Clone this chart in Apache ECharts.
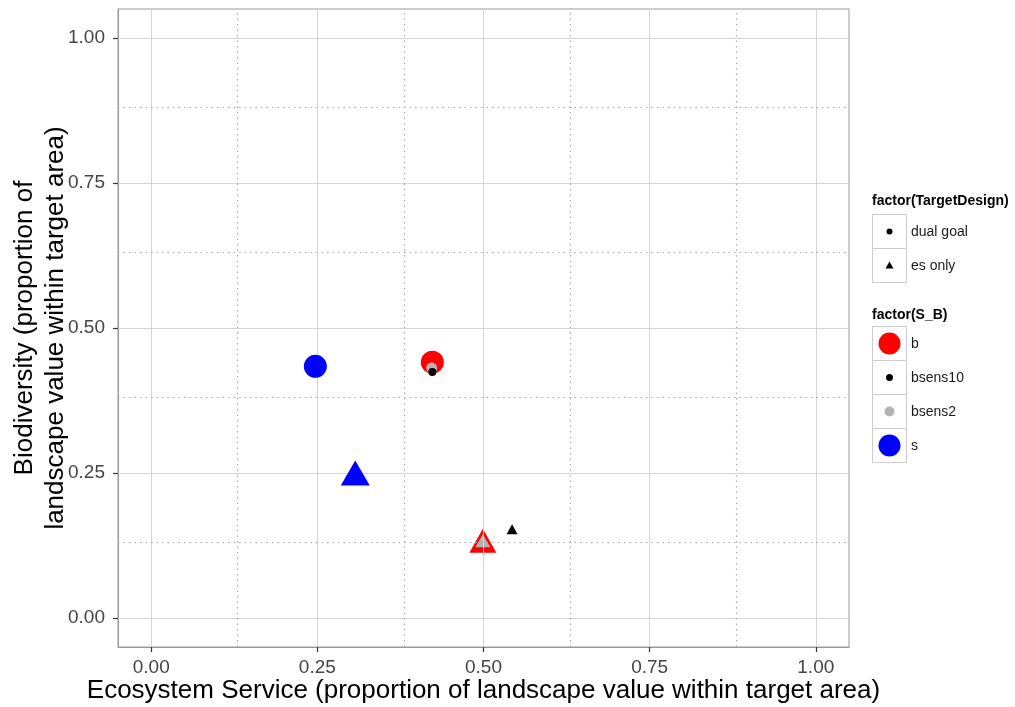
<!DOCTYPE html>
<html>
<head>
<meta charset="utf-8">
<script src="https://cdn.jsdelivr.net/npm/echarts@6/dist/echarts.min.js"></script>
<style>
  html, body { margin: 0; padding: 0; background: #fff; }
  #chart { width: 1015px; height: 707px; }
</style>
</head>
<body>
<div id="chart"></div>
<script>
// Levels of the two factors
const sbLevels = ['b', 'bsens10', 'bsens2', 's'];
const designLevels = ['dual goal', 'es only'];

// [EcosystemService, Biodiversity] per S_B level, for each target design
const dualGoal = {
  b:       [0.423, 0.441],
  bsens10: [0.423, 0.424],
  bsens2:  [0.422, 0.431],
  s:       [0.247, 0.434]
};
const esOnly = {
  b:       [0.499, 0.133],
  bsens10: [0.543, 0.153],
  bsens2:  [0.499, 0.133],
  s:       [0.307, 0.250]
};

// Tick labels and grid breaks
const majorBreaks = [0, 0.25, 0.5, 0.75, 1];
const minorBreaks = [0.125, 0.375, 0.625, 0.875];
const tickLabels = ['0.00', '0.25', '0.50', '0.75', '1.00'];

// Styling per level
const sbColor = { b: '#ff0000', bsens10: '#000000', bsens2: '#b3b3b3', s: '#0000ff' };
const circleSize = { b: 23, bsens10: 8, bsens2: 11, s: 23 };
const triSize = { b: [27, 24], bsens10: [11, 10], bsens2: [15, 13], s: [29, 25] };
const drawOrder = ['b', 'bsens2', 'bsens10', 's'];

const FONT = '"Liberation Sans", Arial, Helvetica, sans-serif';

function fmt(v) {
  const i = majorBreaks.findIndex(b => Math.abs(b - v) < 1e-9);
  return i >= 0 ? tickLabels[i] : '';
}

const series = [];

// Panel grid lines
series.push({
  type: 'scatter',
  data: [],
  silent: true,
  z: 0,
  markLine: {
    silent: true,
    symbol: 'none',
    animation: false,
    label: { show: false },
    data: [
      ...majorBreaks.map(v => ({ xAxis: v, lineStyle: { color: '#d4d4d4', width: 1, type: 'solid' } })),
      ...majorBreaks.map(v => ({ yAxis: v, lineStyle: { color: '#d4d4d4', width: 1, type: 'solid' } })),
      ...minorBreaks.map(v => ({ xAxis: v, lineStyle: { color: '#a8a8a8', width: 1.2, type: [1.5, 4] } })),
      ...minorBreaks.map(v => ({ yAxis: v, lineStyle: { color: '#a8a8a8', width: 1.2, type: [1.5, 4] } }))
    ]
  }
});

drawOrder.forEach((lvl, k) => {
  const pts = [
    { value: dualGoal[lvl], symbol: 'circle', symbolSize: circleSize[lvl] },
    { value: esOnly[lvl], symbol: 'triangle', symbolSize: triSize[lvl] }
  ];
  series.push({
    name: lvl,
    type: 'scatter',
    z: 2 + k,
    data: pts,
    itemStyle: { color: sbColor[lvl], opacity: 1 },
    emphasis: { disabled: true },
    animation: false
  });
});

// Legend keys (ggplot-style boxed keys)
const graphics = [];
const lx = 872, kw = 34, kh = 34;
function legendTitle(text, cy) {
  graphics.push({ type: 'text', x: lx, y: cy, style: { text, font: 'bold 14px ' + FONT, fill: '#000', verticalAlign: 'middle' } });
}
function keyBox(y, h) {
  graphics.push({ type: 'rect', shape: { x: lx + 0.5, y: y + 0.5, width: kw, height: h }, style: { fill: '#fff', stroke: '#cccccc', lineWidth: 1 } });
}
function keyLabel(text, y, h) {
  graphics.push({ type: 'text', x: lx + kw + 5, y: y + h / 2 + 1, style: { text, font: '14px ' + FONT, fill: '#1a1a1a', verticalAlign: 'middle' } });
}
// factor(TargetDesign)
legendTitle('factor(TargetDesign)', 201);
const tdTop = 214;
designLevels.forEach((d, i) => {
  const y = tdTop + i * kh;
  keyBox(y, kh);
  const cx = lx + kw / 2 + 0.5, cy = y + kh / 2 + 0.5;
  if (d === 'dual goal') {
    graphics.push({ type: 'circle', shape: { cx, cy, r: 3 }, style: { fill: '#000' } });
  } else {
    graphics.push({ type: 'polygon', shape: { points: [[cx, cy - 4], [cx - 4, cy + 3], [cx + 4, cy + 3]] }, style: { fill: '#000' } });
  }
  keyLabel(d, y, kh);
});
// factor(S_B)
legendTitle('factor(S_B)', 315);
const sbTop = 326;
sbLevels.forEach((lvl, i) => {
  const y = sbTop + i * kh;
  keyBox(y, kh);
  graphics.push({ type: 'circle', shape: { cx: lx + kw / 2 + 0.5, cy: y + kh / 2 + 0.5, r: circleSize[lvl] / 2 - 0.5 }, style: { fill: sbColor[lvl] } });
  keyLabel(lvl, y, kh);
});

const axisCommon = {
  type: 'value',
  min: -0.05,
  max: 1.05,
  splitLine: { show: false },
  axisLine: { show: true, onZero: false, lineStyle: { color: '#9a9a9a', width: 1 } },
  axisTick: { show: true, inside: false, customValues: majorBreaks, length: 5, lineStyle: { color: '#333333', width: 1.2 } },
  axisLabel: { customValues: majorBreaks, formatter: fmt, fontFamily: FONT, fontSize: 19, color: '#444444' },
  nameLocation: 'middle',
  nameMoveOverlap: false,
  nameTextStyle: { fontFamily: FONT, fontSize: 26, color: '#000', lineHeight: 31 }
};

const chart = echarts.init(document.getElementById('chart'), null, { renderer: 'canvas' });
chart.setOption({
  backgroundColor: '#ffffff',
  animation: false,
  grid: {
    left: 118, right: 166, top: 9, bottom: 60,
    outerBoundsMode: 'none',
    containLabel: false,
    show: true, borderColor: '#9a9a9a', borderWidth: 1, backgroundColor: '#ffffff'
  },
  xAxis: Object.assign({}, axisCommon, {
    name: 'Ecosystem Service (proportion of landscape value within target area)',
    nameGap: 28,
    axisLabel: Object.assign({}, axisCommon.axisLabel, { margin: 11 })
  }),
  yAxis: Object.assign({}, axisCommon, {
    name: 'Biodiversity (proportion of\nlandscape value within target area)',
    nameGap: 47,
    axisLabel: Object.assign({}, axisCommon.axisLabel, { margin: 13 })
  }),
  series,
  graphic: graphics
});
</script>
</body>
</html>
